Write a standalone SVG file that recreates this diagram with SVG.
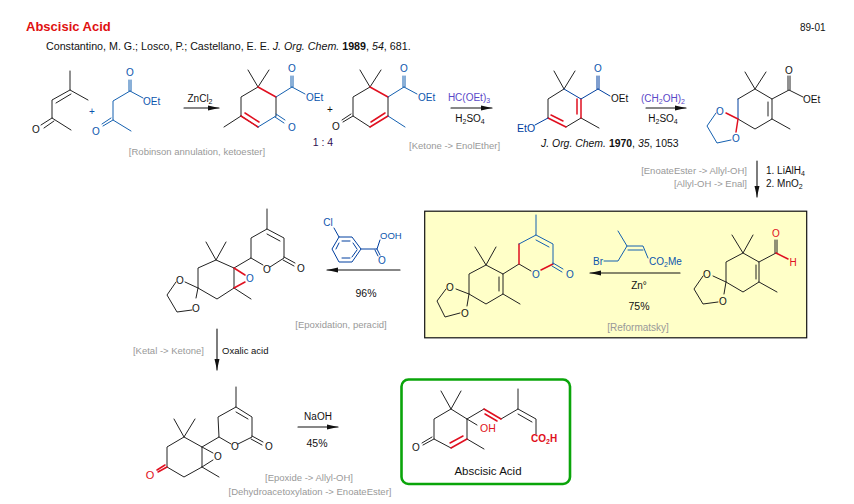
<svg xmlns="http://www.w3.org/2000/svg" width="854" height="504" viewBox="0 0 854 504">
<style>
text{font-family:"Liberation Sans",Arial,sans-serif;font-size:10px;fill:#111}
.m{text-anchor:middle}.e{text-anchor:end}
.g{fill:#999;font-size:9.5px}
.a{fill:#0b55ad}.ar{fill:#e01020}.ad{fill:#003f9f}.ap{fill:#5a48c8}
path{fill:none;stroke-linecap:round}
.k{stroke:#222;stroke-width:1}
.b{stroke:#1460b0;stroke-width:1}
.d{stroke:#003f9f;stroke-width:1}
.r{stroke:#e01020;stroke-width:1.5}
.ra{stroke:#111;stroke-width:1.1}
</style>
<defs>
<marker id="h" markerUnits="userSpaceOnUse" markerWidth="12" markerHeight="8" refX="11" refY="4" orient="auto"><polygon points="0,1.5 11,4 0,6.5" fill="#111"/></marker>
</defs>
<rect width="854" height="504" fill="#fff"/>
<text id="title" x="26" y="31" style="font-size:13px;font-weight:bold;fill:#e01010">Abscisic Acid</text>
<text id="code" x="800" y="31" style="font-size:10px">89-01</text>
<text id="citation" x="46" y="50" style="font-size:10.7px">Constantino, M. G.; Losco, P.; Castellano, E. E. <tspan font-style="italic">J. Org. Chem.</tspan> <tspan font-weight="bold">1989</tspan>, <tspan font-style="italic">54</tspan>, 681.</text>

<rect id="box-reformatsky" x="424.7" y="211.2" width="382" height="126.6" fill="#ffffc8" stroke="#111" stroke-width="1.2"/>
<rect id="box-product" x="401.5" y="379.5" width="168.5" height="104.5" rx="7" fill="#fff" stroke="#0aa50a" stroke-width="2.6"/>

<g id="connectors">
<path class="ra" marker-end="url(#h)" d="M184 108H219"/>
<path class="ra" marker-end="url(#h)" d="M451 108H492"/>
<path class="ra" marker-end="url(#h)" d="M646 108H686"/>
<path class="ra" marker-end="url(#h)" d="M757 161V197"/>
<path class="ra" marker-end="url(#h)" d="M680 273H590"/>
<path class="ra" marker-end="url(#h)" d="M400 270H327"/>
<path class="ra" marker-end="url(#h)" d="M217 329V370"/>
<path class="ra" marker-end="url(#h)" d="M298 427H338"/>
</g>

<g id="mesityl-oxide">
<path class="k" d="M70 71V90L88 100M70 90L52 100V118L71 130M56 103L71 94M52 118L41 125M54 121L44 128"/>
<text x="36" y="133" class="m">O</text>
</g>
<text id="plus1" x="92" y="115" class="m a">+</text>
<g id="ketoester">
<path class="b" d="M129 80V91M131 80V91M130 91L113 101V120L131 131M130 91L143 98M113 120L103 126M111 118L102 124"/>
<text x="130" y="76" class="m a">O</text><text x="96" y="135" class="m a">O</text><text x="143" y="105" class="a">OEt</text>
</g>
<g id="enone-1">
<path class="k" d="M248 70L258 87L269 70M276 97V116M258 127L241 116M241 116V97L258 87M241 116L224 127"/>
<path class="r" d="M258 87L276 97M258 127L241 116M259 122L245 113"/>
<path class="b" d="M276 116L258 127M276 114L285 120M275 117L284 123M276 97L292 87M291 76V87M293 76V87M292 87L305 94"/>
<text x="292" y="72" class="m a">O</text><text x="292" y="131" class="m a">O</text><text x="306" y="101" class="a">OEt</text>
</g>
<text id="plus2" x="330" y="113" class="m">+</text>
<g id="enone-2">
<path class="k" d="M360 70L370 87L381 70M388 97V116M370 127L353 116V97L370 87M353 116L343 122M351 114L342 120"/>
<path class="r" d="M370 87L388 97M388 116L370 127M385 113L371 122"/>
<path class="b" d="M388 116L405 127M388 97L404 87M403 76V87M405 76V87M404 87L417 94"/>
<text x="336" y="130" class="m">O</text><text x="404" y="72" class="m a">O</text><text x="418" y="101" class="a">OEt</text>
</g>
<text id="ratio" x="323" y="146" class="m" style="font-size:10.5px;fill:#301050">1 : 4</text>
<text x="197" y="155" class="m g">[Robinson annulation, ketoester]</text>
<text x="200" y="102" class="m">ZnCl<tspan dy="2" font-size="7">2</tspan></text>
<text x="469" y="101" class="m ap">HC(OEt)<tspan dy="2" font-size="7">3</tspan></text>
<text x="470" y="122" class="m">H<tspan dy="2" font-size="7">2</tspan><tspan dy="-2">SO</tspan><tspan dy="2" font-size="7">4</tspan></text>
<text x="409" y="149" class="g">[Ketone -&gt; EnolEther]</text>

<g id="enol-ether">
<path class="k" d="M554 71L564 89L575 71M581 118L566 127M548 118V99L564 89M581 118L599 128"/>
<path class="r" d="M581 99V118M577 99V114M566 127L548 118M563 121L551 115"/>
<path class="d" d="M564 89L581 99L598 89M597 76V89M599 76V89M598 89L610 96M548 118L535 125"/>
<text x="598" y="72" class="m a">O</text><text x="611" y="102">OEt</text><text x="517" y="132" class="ad" style="font-size:10.5px">EtO</text>
</g>
<text id="citation-2" x="541" y="147" style="font-size:10.45px"><tspan font-style="italic">J. Org. Chem.</tspan> <tspan font-weight="bold">1970</tspan>, <tspan font-style="italic">35</tspan>, 1053</text>
<text x="663" y="102" class="m ap">(CH<tspan dy="2" font-size="7">2</tspan><tspan dy="-2">OH)</tspan><tspan dy="2" font-size="7">2</tspan></text>
<text x="663" y="122" class="m">H<tspan dy="2" font-size="7">2</tspan><tspan dy="-2">SO</tspan><tspan dy="2" font-size="7">4</tspan></text>

<g id="ketal-ester">
<path class="k" d="M745 72L755 89L766 72M755 89L772 99V119L755 129L738 119M768 102V116M772 119L790 129M772 99L789 90L803 97M788 76V90M790 76V90M738 99L755 89"/>
<path class="d" d="M738 119V99"/>
<path class="r" d="M738 119L726 113M738 119L736 132"/>
<path class="b" d="M716 113L707 126L717 143L731 140"/>
<text x="789" y="74" class="m">O</text><text x="803" y="103">OEt</text><text x="720" y="115" class="m a">O</text><text x="736" y="142" class="m a">O</text>
</g>
<text x="747" y="174" class="e g">[EnoateEster -&gt; Allyl-OH]</text>
<text x="747" y="187" class="e g">[Allyl-OH -&gt; Enal]</text>
<text x="766" y="174">1. LiAlH<tspan dy="2" font-size="7">4</tspan></text>
<text x="766" y="187">2. MnO<tspan dy="2" font-size="7">2</tspan></text>

<g id="aldehyde">
<path class="k" d="M732 235L743 253L753 235M743 253L759 262V282L743 292L726 282V262L743 253M756 265V279M759 282L777 292M759 262L776 253M726 282L713 276M726 282L724 294M703 276L694 289L703 304L718 302M775 240V253M777 240V253"/>
<path class="r" d="M776 253L788 259"/>
<text x="776" y="237" class="m ar">O</text><text x="793" y="266" class="m ar">H</text><text x="707" y="278" class="m">O</text><text x="723" y="305" class="m">O</text>
</g>
<g id="bromo-ester">
<path class="b" d="M604 261H618L627 246L618 231M627 246H643L648 258M628 250H643"/>
<text x="593" y="265" class="a">Br</text><text x="649" y="265" class="a">CO<tspan dy="2" font-size="7">2</tspan><tspan dy="-2">Me</tspan></text>
</g>
<text x="639" y="289" class="m">Zn°</text><text x="639" y="310" class="m" style="font-size:10.5px">75%</text><text x="638" y="331" class="m g" style="font-size:10px">[Reformatsky]</text>

<g id="lactone-ketal">
<path class="k" d="M475 247L486 265L496 247M486 265L503 274V294L486 304L469 294V274L486 265M499 277V291M503 294L520 304M469 294L456 289M469 294L467 306M446 289L437 301L445 317L460 313M503 274L519 264L531 271"/>
<path class="r" d="M519 264V244M553 264L541 270"/>
<path class="b" d="M519 244L536 235V215M536 235L553 244V264M536 240L549 247M553 263L563 269M552 266L562 272"/>
<text x="450" y="291" class="m">O</text><text x="465" y="317" class="m">O</text><text x="536" y="278" class="m a">O</text><text x="570" y="278" class="m a">O</text>
</g>

<g id="epoxy-lactone">
<path class="k" d="M206 242L216 260L226 242M216 260L234 268V288L217 299L198 288V268L216 260M234 288L251 299M198 288L185 282M198 288L196 298M176 282L167 295L177 312L192 310M234 268L251 258V238L267 229V209M267 229L284 238V258L270 267M267 234L280 241M251 258L263 265M284 257L295 263M283 260L294 266"/>
<path class="r" d="M234 268L245 275M234 288L245 282"/>
<text x="250" y="282" class="m a">O</text><text x="180" y="284" class="m">O</text><text x="196" y="312" class="m">O</text><text x="267" y="273" class="m">O</text><text x="301" y="272" class="m">O</text>
</g>
<g id="mcpba">
<path class="d" d="M334 228L339 237H352L361 249L352 262H339L332 249L339 237M342 241H350M342 258H350M336 249L339 243M357 249L353 243M357 250L352 257M361 249H377L380 240M377 249L380 255M375 250L378 256"/>
<text x="328" y="226" class="m a">Cl</text><text x="380" y="239" class="a" style="font-size:9.5px">OOH</text><text x="382" y="264" class="m a">O</text>
</g>
<text x="366" y="297" class="m" style="font-size:10.5px">96%</text>
<text x="341" y="328" class="m g">[Epoxidation, peracid]</text>
<text x="204" y="354" class="e g">[Ketal -&gt; Ketone]</text>
<text x="222" y="354" style="font-size:9.5px">Oxalic acid</text>

<g id="epoxy-ketone">
<path class="k" d="M174 419L184 437L195 419M184 437L202 447V467L184 477L167 467V447L184 437M202 467L219 477M202 447L213 453M202 467L213 460M202 447L219 437L218 417L236 407V387M236 407L252 417V437L238 444M236 412L248 419M219 437L231 444M252 436L263 442M251 439L262 445"/>
<path class="r" d="M167 467L158 472M165 465L157 470"/>
<text x="218" y="460" class="m">O</text><text x="150" y="479" class="m ar" style="font-size:11px">O</text><text x="235" y="450" class="m">O</text><text x="269" y="450" class="m">O</text>
</g>
<text x="318" y="420" class="m">NaOH</text><text x="317" y="447" class="m" style="font-size:10.5px">45%</text>
<text x="309" y="481" class="m g">[Epoxide -&gt; Allyl-OH]</text>
<text x="310" y="495" class="m g">[Dehydroacetoxylation -&gt; EnoateEster]</text>

<g id="abscisic-acid">
<path class="k" d="M441 391L451 409L461 391M451 409L467 419V439M451 448L434 439V419L451 409M467 439L484 449M467 419L477 425M434 439L423 445M432 437L422 443M467 419L484 409M501 419L518 409V389M518 409L536 419V434M518 414L532 422"/>
<path class="r" d="M467 439L451 448M463 436L450 443M484 409L501 419M485 414L497 421"/>
<text x="416" y="451" class="m">O</text><text x="480" y="432" class="ar" style="font-size:10.5px">OH</text><text x="531" y="442" class="ar" style="font-weight:bold">CO<tspan dy="2" font-size="7">2</tspan><tspan dy="-2">H</tspan></text>
<text x="488" y="475" class="m" style="font-size:11.5px">Abscisic Acid</text>
</g>
</svg>
